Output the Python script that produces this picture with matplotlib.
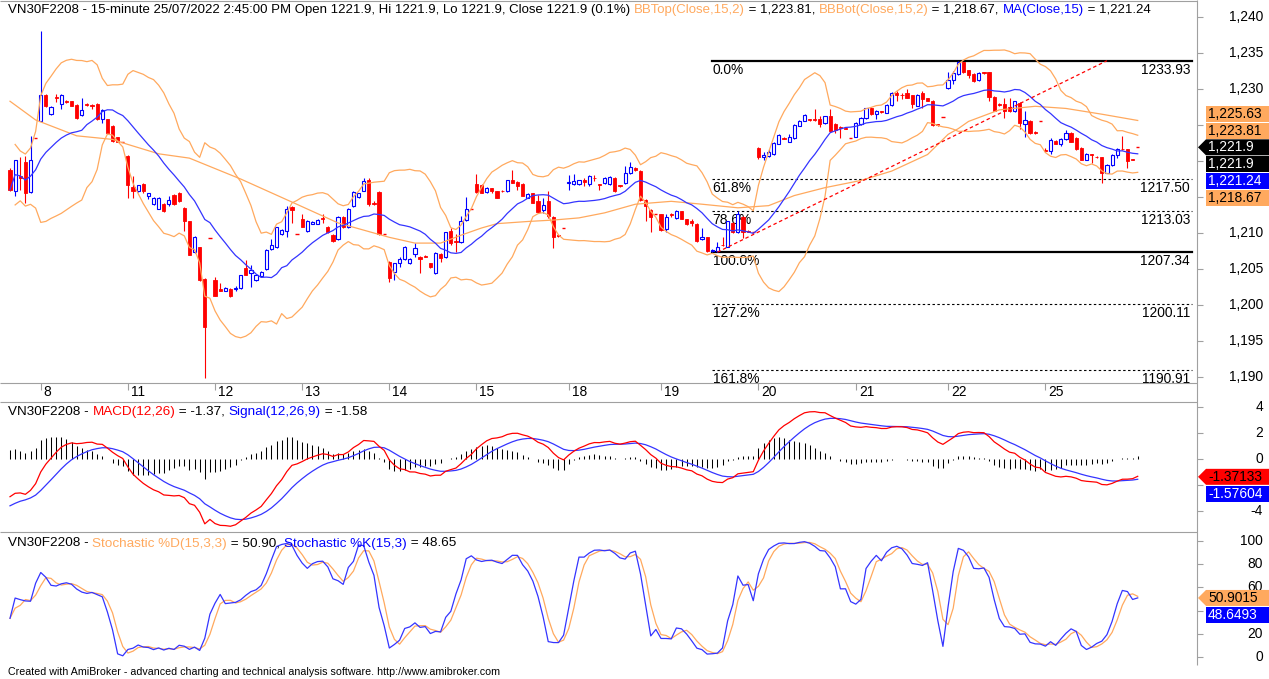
import numpy as np
import pandas as pd
import matplotlib
matplotlib.use("Agg")
import matplotlib.pyplot as plt
from matplotlib.patches import Polygon

plt.rcParams["font.family"] = ["Liberation Sans", "DejaVu Sans"]

W, H = 1269, 679
FS = 9.9
FS_TITLE = 9.7
FS_PRICE_TITLE = 9.55

RED = "#FF0000"
BLUE = "#0000FF"
LINE_BLUE = "#3434FF"
ORANGE = "#FFA95E"
GREY = "#A0A0A0"

# ---------------------------------------------------------------
#  15-minute bars, VN30F2208 (one row per trading day)
# ---------------------------------------------------------------
OPEN = [
    1218.8, 1215.8, 1217.9, 1219.8, 1215.7, 1223.2,                                      # 7
    1225.6, 1229.2, 1226.5, 1228.9, 1227.9, 1228.4, 1228.3, 1227.8, 1226.4, 1227.9,
    1227.8, 1227.9, 1225.8, 1225.8, 1224.9, 1223.3, 1222.6,                              # 8
    1220.7, 1216.4, 1215.8, 1216.8, 1215.2, 1214.0, 1213.4, 1214.0, 1214.0, 1215.3,
    1215.6, 1213.5, 1211.6, 1207.3, 1208.0, 1203.6, 1209.3,                              # 11
    1203.5, 1202.2, 1202.0, 1202.2, 1202.2, 1202.3, 1205.2, 1204.4, 1203.5, 1204.0,
    1205.0, 1207.8, 1208.0, 1209.8, 1210.3, 1213.6, 1209.8,                              # 12
    1212.0, 1210.3, 1211.3, 1211.3, 1212.1, 1210.9, 1209.7, 1209.1, 1212.2, 1210.8,
    1213.7, 1215.0, 1215.9, 1217.3, 1214.2, 1215.7, 1209.8,                              # 13
    1206.0, 1204.6, 1205.8, 1206.4, 1205.8, 1207.1, 1206.7, 1206.8, 1205.8, 1204.4,
    1207.1, 1206.6, 1210.3, 1208.9, 1208.7, 1211.8, 1213.3,                              # 14
    1216.8, 1216.7, 1215.7, 1216.2, 1215.8, 1215.9, 1215.8, 1217.3, 1217.1, 1216.8,
    1214.9, 1215.5, 1214.4, 1213.2, 1214.4, 1212.2, 1209.7, 1210.7,                      # 15
    1216.9, 1216.8, 1216.8, 1217.3, 1216.8, 1217.7, 1216.8, 1216.9, 1216.8, 1217.7,
    1216.6, 1216.9, 1218.3, 1219.0, 1218.6, 1214.6, 1213.2, 1212.6,                      # 18
    1212.6, 1210.6, 1212.6, 1212.1, 1213.0, 1211.9, 1211.6, 1211.3, 1209.1, 1209.4,
    1207.5, 1207.5, 1208.4, 1208.1, 1211.4, 1210.1, 1212.2, 1210.3, 1210.1,              # 19
    1221.8, 1220.6, 1220.7, 1221.0, 1222.4, 1223.2, 1222.7, 1223.2, 1224.9, 1225.6,
    1225.8, 1225.8, 1225.8, 1225.3, 1226.2, 1225.1, 1224.7, 1224.6, 1223.2,              # 20
    1223.4, 1225.1, 1226.0, 1227.4, 1226.5, 1226.9, 1226.7, 1227.8, 1229.5, 1229.2,
    1229.5, 1229.1, 1227.7, 1229.5, 1228.7, 1228.4, 1225.1, 1226.1,                      # 21
    1230.2, 1231.3, 1232.1, 1233.7, 1232.6, 1232.1, 1231.2, 1232.3, 1232.3, 1228.9,
    1227.9, 1227.9, 1227.5, 1226.9, 1228.1, 1225.2, 1225.6, 1224.0, 1225.5,              # 22
    1221.5, 1221.4, 1222.8, 1222.4, 1223.0, 1223.9, 1223.2, 1221.8, 1220.2, 1221.0,
    1220.6, 1220.5, 1218.4, 1219.4, 1220.9, 1221.7, 1221.6, 1220.3, 1221.9,              # 25
]
HIGH = [
    1219.0, 1220.2, 1220.6, 1220.7, 1223.5, 1223.2,
    1238.1, 1229.3, 1227.6, 1229.3, 1229.3, 1228.5, 1228.4, 1227.9, 1228.7, 1228.0,
    1227.9, 1228.1, 1227.2, 1225.9, 1225.0, 1223.4, 1222.6,
    1220.8, 1217.9, 1216.7, 1216.9, 1215.6, 1215.0, 1215.0, 1214.1, 1215.1, 1215.4,
    1215.7, 1213.6, 1211.7, 1209.6, 1208.1, 1203.7, 1209.3,
    1203.9, 1203.0, 1202.5, 1202.3, 1202.6, 1204.2, 1206.3, 1205.6, 1204.2, 1204.7,
    1207.8, 1209.1, 1210.9, 1210.5, 1213.7, 1213.7, 1209.8,
    1212.6, 1211.8, 1211.6, 1211.9, 1212.6, 1211.0, 1209.8, 1212.3, 1212.3, 1213.5,
    1215.8, 1215.6, 1217.7, 1217.6, 1214.5, 1215.8, 1209.8,
    1206.1, 1205.9, 1206.7, 1208.2, 1206.5, 1208.6, 1206.8, 1206.9, 1205.9, 1207.3,
    1207.2, 1210.2, 1210.7, 1209.8, 1212.3, 1215.0, 1213.3,
    1218.2, 1216.8, 1216.4, 1216.3, 1215.9, 1216.0, 1217.4, 1218.7, 1217.2, 1216.9,
    1215.5, 1215.6, 1215.3, 1214.8, 1215.8, 1212.3, 1209.8, 1210.7,
    1218.1, 1218.2, 1217.4, 1217.7, 1218.1, 1218.0, 1216.8, 1217.8, 1217.9, 1217.8,
    1216.7, 1219.3, 1219.8, 1219.1, 1218.7, 1214.7, 1213.3, 1212.6,
    1212.7, 1212.6, 1212.8, 1213.2, 1213.1, 1212.0, 1212.0, 1211.4, 1210.7, 1209.5,
    1207.8, 1208.8, 1209.5, 1211.7, 1211.5, 1213.0, 1212.3, 1210.4, 1210.1,
    1221.9, 1221.2, 1221.6, 1222.6, 1223.7, 1223.3, 1223.7, 1225.1, 1225.7, 1226.5,
    1225.9, 1227.2, 1226.3, 1226.3, 1227.2, 1225.3, 1224.9, 1224.7, 1223.2,
    1225.4, 1226.1, 1227.4, 1227.5, 1227.1, 1227.0, 1227.9, 1229.6, 1229.7, 1229.5,
    1230.0, 1229.2, 1229.3, 1229.7, 1228.8, 1228.5, 1225.2, 1226.1,
    1232.3, 1232.5, 1233.93, 1233.8, 1232.7, 1232.2, 1232.3, 1232.4, 1232.4, 1229.0,
    1228.0, 1228.8, 1228.7, 1228.4, 1228.2, 1227.0, 1225.7, 1224.1, 1225.5,
    1221.85, 1223.2, 1222.9, 1223.2, 1224.3, 1224.0, 1223.3, 1221.9, 1221.1, 1221.0,
    1220.7, 1220.6, 1219.6, 1221.0, 1221.8, 1223.5, 1221.7, 1220.3, 1221.9,
]
LOW = [
    1215.9, 1215.1, 1216.0, 1214.2, 1215.6, 1223.2,
    1225.5, 1227.5, 1226.4, 1228.2, 1227.2, 1228.1, 1227.6, 1225.9, 1226.3, 1227.7,
    1227.2, 1225.7, 1225.3, 1223.8, 1222.6, 1222.6, 1222.6,
    1214.9, 1214.9, 1215.7, 1215.6, 1214.7, 1213.9, 1213.3, 1212.9, 1213.8, 1213.9,
    1214.3, 1210.3, 1206.9, 1207.2, 1203.4, 1189.8, 1209.3,
    1201.2, 1201.9, 1201.9, 1201.1, 1202.0, 1202.2, 1204.1, 1202.5, 1203.4, 1203.9,
    1204.9, 1207.7, 1207.9, 1209.7, 1209.5, 1211.4, 1209.8,
    1210.8, 1210.2, 1211.2, 1211.2, 1211.4, 1210.0, 1208.8, 1209.0, 1210.7, 1210.7,
    1213.6, 1214.9, 1215.8, 1213.7, 1213.9, 1209.7, 1209.8,
    1203.2, 1203.5, 1205.3, 1206.3, 1205.7, 1206.7, 1204.5, 1206.6, 1205.2, 1204.3,
    1206.0, 1206.5, 1208.4, 1207.4, 1208.6, 1211.6, 1213.3,
    1215.6, 1215.5, 1215.6, 1215.5, 1214.8, 1215.7, 1215.7, 1216.9, 1216.0, 1215.1,
    1214.8, 1214.1, 1212.8, 1212.8, 1212.1, 1207.9, 1209.5, 1210.7,
    1216.0, 1216.7, 1216.7, 1216.5, 1216.5, 1217.2, 1216.0, 1216.8, 1216.7, 1215.7,
    1216.4, 1216.8, 1218.2, 1218.6, 1214.5, 1211.6, 1210.2, 1212.6,
    1210.3, 1210.2, 1212.2, 1212.0, 1211.9, 1211.1, 1211.0, 1208.8, 1209.0, 1207.4,
    1207.4, 1207.34, 1208.2, 1208.0, 1210.0, 1210.0, 1209.3, 1210.1, 1210.1,
    1220.3, 1220.2, 1220.6, 1220.9, 1222.3, 1223.0, 1222.6, 1223.1, 1224.8, 1225.5,
    1225.6, 1225.6, 1224.7, 1225.2, 1224.1, 1223.9, 1223.2, 1224.4, 1223.2,
    1223.3, 1225.0, 1225.9, 1226.4, 1225.8, 1226.7, 1226.6, 1227.7, 1228.4, 1228.6,
    1228.7, 1227.4, 1227.6, 1227.4, 1228.3, 1224.9, 1224.9, 1226.1,
    1230.0, 1230.7, 1232.0, 1232.2, 1231.5, 1231.0, 1231.1, 1232.1, 1228.3, 1226.9,
    1227.7, 1226.0, 1226.8, 1226.8, 1224.4, 1223.3, 1223.8, 1223.8, 1225.5,
    1221.3, 1221.0, 1222.3, 1222.1, 1222.9, 1222.6, 1221.5, 1220.1, 1220.1, 1219.75,
    1220.4, 1216.96, 1218.3, 1219.3, 1220.45, 1221.5, 1219.05, 1220.2, 1221.9,
]
CLOSE = [
    1216.0, 1220.2, 1217.6, 1215.6, 1220.1, 1223.2,
    1229.2, 1227.7, 1227.5, 1228.7, 1229.2, 1228.2, 1227.7, 1226.0, 1227.1, 1227.8,
    1227.6, 1225.8, 1227.1, 1223.9, 1222.8, 1222.7, 1222.6,
    1216.6, 1215.9, 1216.6, 1215.8, 1215.5, 1214.9, 1214.9, 1213.0, 1214.6, 1214.0,
    1214.4, 1211.6, 1207.0, 1209.5, 1203.5, 1197.0, 1209.3,
    1201.3, 1202.0, 1202.4, 1201.2, 1202.4, 1204.1, 1204.2, 1204.9, 1204.1, 1204.6,
    1207.7, 1208.4, 1210.8, 1210.4, 1213.4, 1213.2, 1209.8,
    1210.9, 1211.7, 1211.5, 1211.8, 1211.9, 1210.1, 1208.9, 1212.2, 1210.8, 1213.4,
    1215.7, 1215.5, 1217.2, 1214.0, 1214.0, 1209.8, 1209.8,
    1203.7, 1205.8, 1206.4, 1208.1, 1206.4, 1207.9, 1206.4, 1206.7, 1205.3, 1207.2,
    1206.5, 1210.1, 1208.6, 1208.7, 1211.7, 1213.3, 1213.3,
    1215.7, 1215.6, 1216.3, 1215.8, 1214.9, 1215.8, 1217.3, 1217.0, 1216.5, 1215.2,
    1215.4, 1214.2, 1212.9, 1213.9, 1212.3, 1209.5, 1209.6, 1210.7,
    1217.1, 1217.2, 1217.3, 1217.1, 1217.9, 1217.6, 1216.7, 1217.7, 1217.8, 1215.8,
    1216.5, 1218.4, 1219.1, 1218.7, 1214.6, 1213.7, 1212.2, 1212.6,
    1210.4, 1212.2, 1212.5, 1213.1, 1212.0, 1211.2, 1211.4, 1208.9, 1209.5, 1207.45,
    1207.6, 1208.1, 1208.3, 1211.6, 1210.1, 1212.6, 1210.2, 1210.2, 1210.1,
    1220.5, 1220.8, 1221.2, 1222.5, 1223.6, 1223.1, 1223.3, 1225.0, 1225.6, 1226.4,
    1225.7, 1225.7, 1225.2, 1226.2, 1224.2, 1224.3, 1224.6, 1224.5, 1223.2,
    1225.3, 1226.0, 1227.3, 1226.5, 1227.0, 1226.8, 1227.8, 1229.5, 1229.1, 1229.1,
    1228.8, 1227.9, 1229.2, 1228.6, 1228.4, 1225.0, 1225.0, 1226.1,
    1231.2, 1232.2, 1233.8, 1232.3, 1232.0, 1231.1, 1232.2, 1232.2, 1228.9, 1227.0,
    1227.8, 1227.0, 1226.9, 1228.3, 1225.3, 1225.7, 1223.9, 1223.9, 1225.5,
    1221.4, 1222.9, 1222.4, 1223.0, 1223.9, 1222.7, 1221.6, 1220.2, 1221.0, 1220.9,
    1220.5, 1218.4, 1219.5, 1220.9, 1221.7, 1221.6, 1220.0, 1220.2, 1221.9,
]

DAY_LABELS = ["8", "11", "12", "13", "14", "15", "18", "19", "20", "21", "22", "25"]
DAY_FIRST_BAR = [6, 23, 40, 57, 74, 91, 109, 127, 146, 165, 183, 202]

# slow orange average (history before the first bar not available)
SLOW_BARS = [0, 5, 13, 20, 23, 29, 35, 45, 55, 64, 74, 79, 84, 88, 92, 95, 101, 106,
             111, 116, 122, 129, 135, 142, 148, 153, 159, 166, 172, 179, 183, 185,
             187, 193, 200, 206, 213, 220]
SLOW_VALUES = [1228.3, 1225.7, 1223.5, 1223.0, 1222.3, 1221.0, 1220.4, 1217.5, 1214.3,
               1211.4, 1209.4, 1208.6, 1208.6, 1209.7, 1210.7, 1211.3, 1211.6, 1211.8,
               1212.1, 1212.8, 1214.0, 1214.4, 1214.0, 1213.5, 1213.8, 1215.2, 1216.3,
               1217.3, 1218.6, 1220.9, 1223.7, 1224.5, 1225.5, 1227.1, 1227.6, 1227.3,
               1226.5, 1225.63]

# state of the off-screen history before the first bar (estimated from the chart)
EMA12_START = 1219.6
EMA26_START = 1222.5
SIGNAL_START = -3.6
PRIOR_HIGH = 1224.0
PRIOR_LOW = 1212.0

# Fibonacci retracement anchors and trend line
FIB_LOW_BAR = 138
FIB_HIGH_BAR = 185
FIB_RATIOS = [0.0, 0.618, 0.786, 1.0, 1.272, 1.618]
TREND_BARS = [138, 214]
TREND_PRICES = [1207.34, 1233.93]

# last values shown in the right-hand tags
PRICE_TAGS = ["1,225.63", "1,223.81", "1,221.9", "1,221.9", "1,221.24", "1,218.67"]
PRICE_TAG_ANCHOR = 1221.9
MACD_TAGS = ["-1.37133", "-1.57604"]
MACD_TAG_ANCHOR = -1.37133
STOCH_TAGS = ["50.9015", "48.6493"]
STOCH_TAG_ANCHOR = 50.9015

PRICE_TITLE = [
    ("VN30F2208 - 15-minute 25/07/2022 2:45:00 PM Open 1221.9, Hi 1221.9, Lo 1221.9, "
     "Close 1221.9 (0.1%) ", "black"),
    ("BBTop(Close,15,2)", ORANGE), (" = 1,223.81, ", "black"),
    ("BBBot(Close,15,2)", ORANGE), (" = 1,218.67, ", "black"),
    ("MA(Close,15)", BLUE), (" = 1,221.24", "black"),
]
MACD_TITLE = [("VN30F2208 - ", "black"), ("MACD(12,26)", RED), (" = -1.37, ", "black"),
              ("Signal(12,26,9)", BLUE), (" = -1.58", "black")]
STOCH_TITLE = [("VN30F2208 - ", "black"), ("Stochastic %D(15,3,3)", ORANGE),
               (" = 50.90, ", "black"), ("Stochastic %K(15,3)", BLUE), (" = 48.65", "black")]

# ---------------------------------------------------------------
#  indicators
# ---------------------------------------------------------------
o = np.array(OPEN)
c = np.array(CLOSE)
hi = np.maximum(np.array(HIGH), np.maximum(o, c))
lo = np.minimum(np.array(LOW), np.minimum(o, c))
n = len(c)
xs = np.arange(n)

cs = pd.Series(c)
ma15 = cs.rolling(15, min_periods=1).mean()
sd15 = cs.rolling(15, min_periods=2).std(ddof=0)
bb_top = ma15 + 2 * sd15
bb_bot = ma15 - 2 * sd15


def ema(values, span, start):
    a = 2.0 / (span + 1)
    out = np.empty(len(values))
    prev = start
    for i, v in enumerate(values):
        if i > 0:
            prev = prev + a * (v - prev)
        out[i] = prev
    return out


macd = ema(c, 12, EMA12_START) - ema(c, 26, EMA26_START)
signal = ema(macd, 9, SIGNAL_START)
hist = macd - signal

hh = pd.Series(hi).rolling(15, min_periods=1).max().to_numpy()
ll = pd.Series(lo).rolling(15, min_periods=1).min().to_numpy()
hh[:14] = np.maximum(hh[:14], PRIOR_HIGH)
ll[:14] = np.minimum(ll[:14], PRIOR_LOW)
num = pd.Series(c - ll).rolling(3, min_periods=1).sum()
den = pd.Series(hh - ll).rolling(3, min_periods=1).sum()
stoch_k = 100 * num / den
stoch_d = stoch_k.rolling(3, min_periods=1).mean()

fib_hi = hi[FIB_HIGH_BAR]
fib_lo = lo[FIB_LOW_BAR]

# ---------------------------------------------------------------
#  figure / panes (pixel layout of the AmiBroker window)
# ---------------------------------------------------------------
fig = plt.figure(figsize=(W / 100, H / 100), dpi=100)
fig.patch.set_facecolor("white")

AXIS_X = 1197
BAR_PX = 5.126
FIRST_PX = 10.0
X_LIM = (-FIRST_PX / BAR_PX, (AXIS_X - FIRST_PX) / BAR_PX)


def pane(top, bottom, ylim):
    ax = fig.add_axes([0, 1 - bottom / H, AXIS_X / W, (bottom - top) / H])
    ax.set_xlim(*X_LIM)
    ax.set_ylim(*ylim)
    ax.set_axis_off()
    return ax


axp = pane(0, 383, (1189.17, 1242.36))
axm = pane(402, 532, (-5.615, 4.385))
axs = pane(532, 665, (-6.9, 107.76))

# --- candles
BODY = 0.62
up = c > o
dn = c < o
fl = c == o
axp.vlines(xs[up], c[up], hi[up], color=BLUE, lw=0.8, zorder=3)
axp.vlines(xs[up], lo[up], o[up], color=BLUE, lw=0.8, zorder=3)
axp.bar(xs[up], c[up] - o[up], bottom=o[up], width=BODY, facecolor="white",
        edgecolor=BLUE, lw=0.8, zorder=3)
axp.vlines(xs[~up], lo[~up], hi[~up], color=RED, lw=0.8, zorder=3)
axp.bar(xs[dn], o[dn] - c[dn], bottom=c[dn], width=BODY, color=RED,
        edgecolor=RED, lw=0.6, zorder=3)
axp.hlines(c[fl], xs[fl] - BODY / 2, xs[fl] + BODY / 2, color=RED, lw=1.0, zorder=3)

# --- bands / averages
axp.plot(xs, bb_top, color=ORANGE, lw=0.9, zorder=4)
axp.plot(xs, bb_bot, color=ORANGE, lw=0.9, zorder=4)
axp.plot(SLOW_BARS, SLOW_VALUES, color=ORANGE, lw=0.9, zorder=4)
axp.plot(xs, ma15, color=LINE_BLUE, lw=0.9, zorder=4)

# --- fibonacci
FIB_X0, FIB_X1 = 136.9, 230.6
for r in FIB_RATIOS:
    level = fib_hi - r * (fib_hi - fib_lo)
    if r in (0.0, 1.0):
        axp.plot([FIB_X0, FIB_X1], [level, level], color="black", lw=1.6, zorder=1)
    else:
        axp.plot([FIB_X0, FIB_X1], [level, level], color="black", lw=0.8,
                 ls=(0, (2.2, 2.2)), zorder=1)
    axp.annotate(f"{r * 100:.1f}%", (FIB_X0, level), xytext=(1, -2),
                 textcoords="offset pixels", ha="left", va="top", fontsize=FS, zorder=2)
    axp.annotate(f"{level:.2f}", (FIB_X1, level), xytext=(-2, -2),
                 textcoords="offset pixels", ha="right", va="top", fontsize=FS, zorder=2)

axp.plot(TREND_BARS, TREND_PRICES, color=RED, lw=0.9, ls=(0, (2.8, 2.2)), zorder=4)

# --- MACD
axm.vlines(xs, 0, hist, color="black", lw=0.75, zorder=2)
axm.plot(xs, signal, color=LINE_BLUE, lw=0.9, zorder=3)
axm.plot(xs, macd, color=RED, lw=0.9, zorder=3)

# --- stochastic
axs.plot(xs, stoch_d, color=ORANGE, lw=0.9, zorder=3)
axs.plot(xs, stoch_k, color=LINE_BLUE, lw=0.9, zorder=3)

# ---------------------------------------------------------------
#  overlay in window pixels: frames, right axis, tags, titles
# ---------------------------------------------------------------
ov = fig.add_axes([0, 0, 1, 1])
ov.set_xlim(0, W)
ov.set_ylim(H, 0)
ov.set_axis_off()
ov.set_zorder(10)


def ypix(ax, v):
    return H - ax.transData.transform((0, v))[1]


def xpix(ax, i):
    return ax.transData.transform((i, 0))[0]


ov.hlines([0.5, 383, 402, 532], 0, AXIS_X, color=GREY, lw=0.8)
ov.vlines(AXIS_X, 0, 665, color=GREY, lw=0.8)

# dates
for lab, i in zip(DAY_LABELS, DAY_FIRST_BAR):
    xp = xpix(axp, i)
    ov.vlines(xp, 383, 390, color=GREY, lw=0.8)
    ov.text(xp + 3, 392.5, lab, ha="left", va="center", fontsize=FS)


def right_axis(ax, values, hidden, fmt):
    for v in values:
        y = ypix(ax, v)
        ov.hlines(y, AXIS_X, AXIS_X + 6, color=GREY, lw=0.8)
        if v not in hidden:
            ov.text(1263, y, fmt(v), ha="right", va="center", fontsize=FS)


right_axis(axp, range(1190, 1241, 5), (1215, 1220, 1225), lambda v: f"{v:,}")
right_axis(axm, [4, 2, 0, -2, -4], (-2,), str)
right_axis(axs, [100, 80, 60, 40, 20, 0], (40,), str)


def tag(yc, text, fc, tc, arrow=False):
    x0, x1, h2 = 1206, W, 8
    if arrow:
        pts = [(1198, yc), (x0, yc - h2), (x1, yc - h2), (x1, yc + h2), (x0, yc + h2)]
    else:
        pts = [(x0, yc - h2), (x1, yc - h2), (x1, yc + h2), (x0, yc + h2)]
    ov.add_patch(Polygon(pts, closed=True, facecolor=fc, edgecolor="none", zorder=5))
    ov.text(x0 + 2, yc, text, ha="left", va="center", fontsize=FS, color=tc, zorder=6)


def tag_stack(ax, texts, styles, anchor_value, anchor_idx, step=16.8):
    y0 = ypix(ax, anchor_value)
    for k, (t, (fc, tc)) in enumerate(zip(texts, styles)):
        tag(y0 + (k - anchor_idx) * step, t, fc, tc, arrow=(k == anchor_idx))


tag_stack(axp, PRICE_TAGS,
          [(ORANGE, "black"), (ORANGE, "black"), ("black", "white"), ("black", "white"),
           (BLUE, "white"), (ORANGE, "black")], PRICE_TAG_ANCHOR, 2)
tag_stack(axm, MACD_TAGS, [(RED, "black"), (BLUE, "white")], MACD_TAG_ANCHOR, 0)
tag_stack(axs, STOCH_TAGS, [(ORANGE, "black"), (BLUE, "white")], STOCH_TAG_ANCHOR, 0)

# multi-coloured pane titles
renderer = fig.canvas.get_renderer()


def text_width(s, fs):
    t = ov.text(0, 0, s + "|", fontsize=fs)
    w = t.get_window_extent(renderer=renderer).width
    t.remove()
    return w


def colour_title(x, y, parts, fs=FS_TITLE):
    bar_w = text_width("", fs)
    prefix = ""
    for s, col in parts:
        dx = text_width(prefix, fs) - bar_w if prefix else 0
        ov.text(x + dx, y, s, color=col, fontsize=fs, ha="left", va="center")
        prefix += s


colour_title(8, 10, PRICE_TITLE, FS_PRICE_TITLE)
colour_title(8, 412, MACD_TITLE)
colour_title(8, 543.5, STOCH_TITLE)

ov.text(8, 672, "Created with AmiBroker - advanced charting and technical analysis "
        "software. http://www.amibroker.com", fontsize=7.7, ha="left", va="center")

fig.savefig("out.png", dpi=100, facecolor="white")
